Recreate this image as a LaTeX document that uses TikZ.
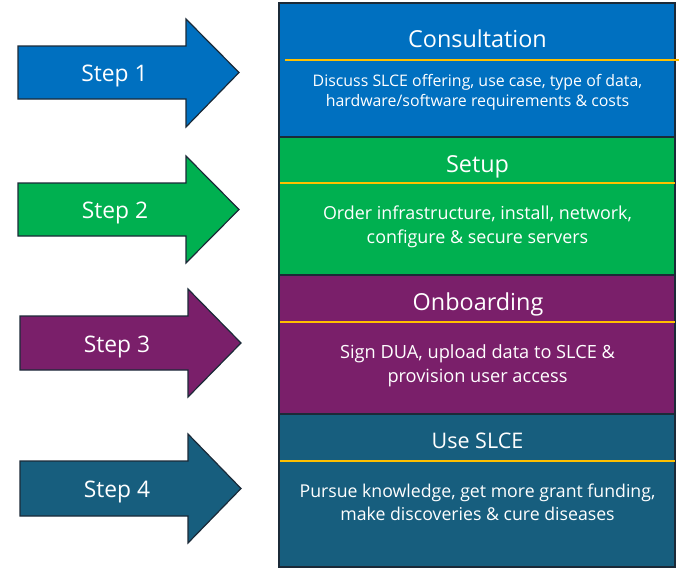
\documentclass[tikz,border=0pt]{standalone}
\usepackage{fontspec}
\setmainfont{Open Sans}
\definecolor{cblue}{HTML}{0070C0}
\definecolor{cgreen}{HTML}{00B050}
\definecolor{cpurple}{HTML}{7A1F6A}
\definecolor{cteal}{HTML}{175E7E}
\definecolor{cline}{HTML}{1B2A38}
\definecolor{cyellow}{HTML}{FFC000}
\begin{document}
\begin{tikzpicture}[x=1pt,y=-1pt,
  section/.style={draw=cline,line width=1.2pt,fill=#1},
  divider/.style={draw=cyellow,line width=1.4pt},
  arrowshape/.style={draw=cline,line width=1.2pt,fill=#1,line join=miter},
  steptext/.style={text=white,font=\fontsize{22.8}{27}\selectfont,inner sep=0pt,anchor=base},
  titletext/.style={text=white,font=\fontsize{23.4}{28}\selectfont,inner sep=0pt,anchor=base},
  smalltitle/.style={text=white,font=\fontsize{21.5}{26}\selectfont,inner sep=0pt,anchor=base},
  bodytext/.style={text=white,align=center,inner sep=0pt}]
\useasboundingbox (0,0) rectangle (700,570);
% sections
\path[section=cblue] (279,3) rectangle (675,137);
\path[section=cgreen] (279,137) rectangle (675,275);
\path[section=cpurple] (279,275) rectangle (675,414);
\path[section=cteal] (279,414) rectangle (675,567);
\coordinate (d1l) at (285,60); \coordinate (d1r) at (679,60);
\coordinate (d2l) at (280,183); \coordinate (d2r) at (675,183);
\coordinate (d3l) at (280,322); \coordinate (d3r) at (675,322);
\coordinate (d4l) at (280,461); \coordinate (d4r) at (675,461);
\draw[divider] (d1l) -- (d1r);
\draw[divider] (d2l) -- (d2r);
\draw[divider] (d3l) -- (d3r);
\draw[divider] (d4l) -- (d4r);
% titles
\node[titletext] (t1) at (477.5,47.5) {Consultation};
\node[titletext] (t2) at (477.5,172) {Setup};
\node[titletext] (t3) at (478,310) {Onboarding};
\node[smalltitle] (t4) at (477.5,448) {Use SLCE};
% bodies
\node[bodytext,font=\fontsize{15.9}{20}\selectfont] (b1) at (477.5,92.5) {Discuss SLCE offering, use case, type of data,\\hardware/software requirements \& costs};
\node[bodytext,font=\fontsize{17.9}{24}\selectfont] (b2) at (477.5,227) {Order infrastructure, install, network,\\configure \& secure servers};
\node[bodytext,font=\fontsize{18.2}{24}\selectfont] (b3) at (477.5,366) {Sign DUA, upload data to SLCE \&\\provision user access};
\node[bodytext,font=\fontsize{17.7}{23}\selectfont] (b4) at (477.5,502) {Pursue knowledge, get more grant funding,\\make discoveries \& cure diseases};
% arrows
\path[arrowshape=cblue] (18,46) -- (186,46) -- (186,19) -- (239,72.5) -- (186,127) -- (186,99) -- (18,99) -- cycle;
\path[arrowshape=cgreen] (18,183) -- (186,183) -- (186,156) -- (239,209.5) -- (186,263) -- (186,236) -- (18,236) -- cycle;
\path[arrowshape=cpurple] (20,316) -- (188,316) -- (188,289) -- (241,343) -- (188,397) -- (188,370) -- (20,370) -- cycle;
\path[arrowshape=cteal] (20,461) -- (188,461) -- (188,434) -- (241,488.5) -- (188,543) -- (188,516) -- (20,516) -- cycle;
\node[steptext] (s1) at (114.5,81) {Step 1};
\node[steptext] (s2) at (115,218) {Step 2};
\node[steptext] (s3) at (117,352) {Step 3};
\node[steptext] (s4) at (117,497) {Step 4};
\end{tikzpicture}
\end{document}
